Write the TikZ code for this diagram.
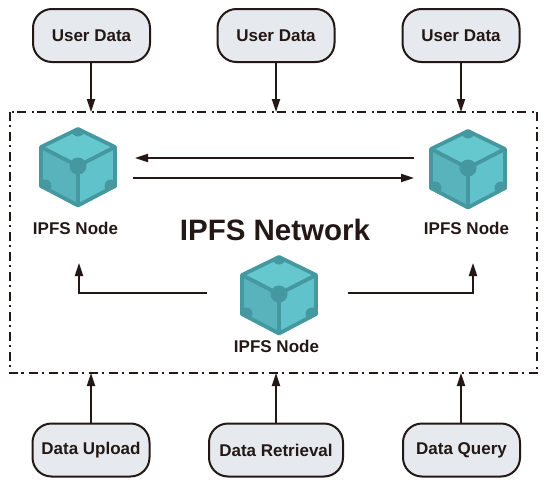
\documentclass[tikz,border=0pt]{standalone}
\usepackage{fontspec}
\setmainfont{Liberation Sans}
\usetikzlibrary{arrows.meta,calc}
\definecolor{ink}{HTML}{231815}
\definecolor{boxfill}{HTML}{E6EAEE}
\definecolor{cubeedge}{HTML}{45989F}
\definecolor{cubetop}{HTML}{65C8CF}
\definecolor{cubeleft}{HTML}{59B3BC}
\definecolor{cuberight}{HTML}{60C2CA}
\tikzset{
  termbox/.style={draw=ink,line width=2pt,fill=boxfill,rounded corners=19pt,minimum height=53pt,inner sep=0pt,font=\bfseries\fontsize{17}{17}\selectfont,text=ink},
  conn/.style={draw=ink,line width=1.9pt,-{Triangle[length=13pt,width=8pt]}},
  nodelabel/.style={font=\bfseries\fontsize{17}{17}\selectfont,text=ink,inner sep=0pt},
  pics/ipfscube/.style={code={
    \coordinate (-c) at (0,0);
    \fill[cubetop] (0,-38)--(38.5,-19)--(0,0)--(-38.5,-19)--cycle;
    \fill[cubeleft] (-38.5,-19)--(0,0)--(0,41)--(-38.5,21)--cycle;
    \fill[cuberight] (38.5,-19)--(0,0)--(0,41)--(38.5,21)--cycle;
    \begin{scope}
      \clip (0,-38)--(38.5,-19)--(38.5,21)--(0,41)--(-38.5,21)--(-38.5,-19)--cycle;
      \fill[cubeedge] (0,-36) circle (6.5);
      \fill[cubeedge] (-33,20) circle (6.5);
      \fill[cubeedge] (33,20) circle (6.5);
    \end{scope}
    \draw[cubeedge,line width=3.8pt,line join=round] (0,-37)--(37,-19)--(37,20)--(0,39.5)--(-37,20)--(-37,-19)--cycle;
    \draw[cubeedge,line width=3.8pt] (-37,-19)--(0,0)--(37,-19) (0,0)--(0,39.5);
    \fill[cubeedge] (0,0) circle (8.5);
  }}
}
\begin{document}
\begin{tikzpicture}[x=1pt,y=-1pt]
\useasboundingbox (0,0) rectangle (550,485);
\fill[white] (0,0) rectangle (550,485);
% network boundary
\draw[ink,line width=1.7pt,dash pattern=on 9pt off 3.5pt on 2pt off 5.5pt] (10,112) rectangle (537,373);
\coordinate (nw1) at (91,112);
\coordinate (nw2) at (276,112);
\coordinate (nw3) at (461,112);
\coordinate (ns1) at (91,373);
\coordinate (ns2) at (276,373);
\coordinate (ns3) at (461,373);
% terminals
\node[termbox,minimum width=117pt] (u1) at (91.5,35.5) {User Data};
\node[termbox,minimum width=117pt] (u2) at (276,35.5) {User Data};
\node[termbox,minimum width=117pt] (u3) at (461,35.5) {User Data};
\node[termbox,minimum width=117pt] (d1) at (91,450) {Data Upload};
\node[termbox,minimum width=134pt] (d2) at (276,450) {Data Retrieval};
\node[termbox,minimum width=117pt] (d3) at (461.5,450) {Data Query};
\draw[conn] (u1.south -| nw1) -- (nw1);
\draw[conn] (u2.south -| nw2) -- (nw2);
\draw[conn] (u3.south -| nw3) -- (nw3);
\draw[conn] (d1.north -| ns1) -- (ns1);
\draw[conn] (d2.north -| ns2) -- (ns2);
\draw[conn] (d3.north -| ns3) -- (ns3);
% cubes
\pic (c1) at (78,166) {ipfscube};
\pic (c2) at (468,168) {ipfscube};
\pic (c3) at (279,294) {ipfscube};
\node[nodelabel] (l1) at (75.5,228) {IPFS Node};
\node[nodelabel] (l2) at (466.5,228) {IPFS Node};
\node[nodelabel] (l3) at (276.5,346) {IPFS Node};
\node[font=\bfseries\fontsize{29.5}{29.5}\selectfont,text=ink,inner sep=0pt] (title) at (275,230) {IPFS Network};
% links
\coordinate (a1) at (414,158);
\coordinate (a2) at (135,158);
\coordinate (b1) at (133,178);
\coordinate (b2) at (414,178);
\draw[conn] (a1) -- (a2);
\draw[conn] (b1) -- (b2);
\coordinate (e1) at (207,293);
\coordinate (e2) at (79,263);
\coordinate (f1) at (348,293);
\coordinate (f2) at (473,263);
\draw[conn] (e1) -| (e2);
\draw[conn] (f1) -| (f2);
\end{tikzpicture}
\end{document}
